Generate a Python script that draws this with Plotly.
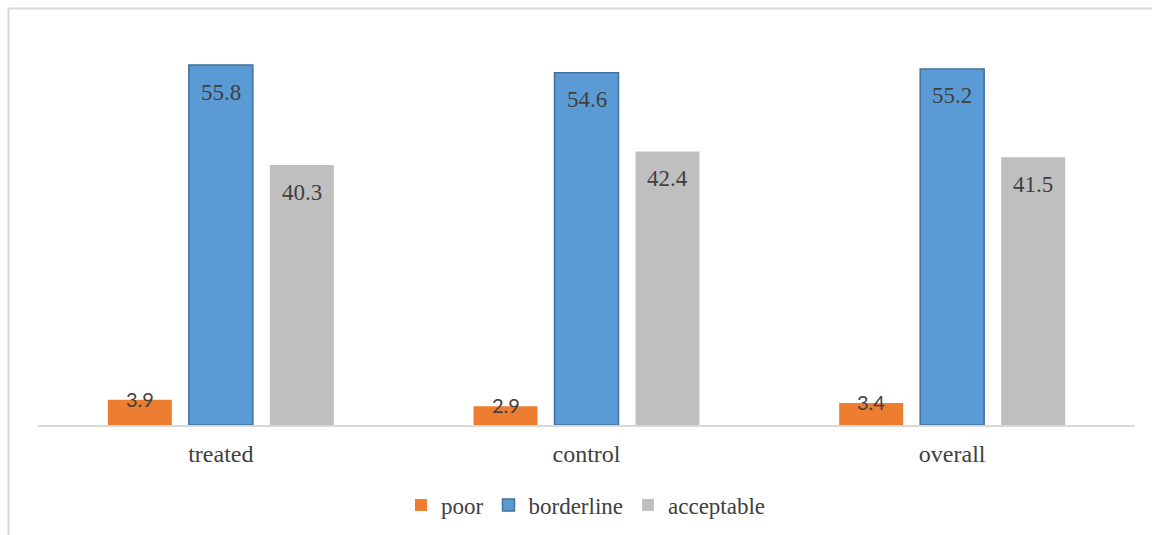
import plotly.graph_objects as go

categories = ["treated", "control", "overall"]
series_names = ["poor", "borderline", "acceptable"]
poor = [3.9, 2.9, 3.4]
borderline = [55.8, 54.6, 55.2]
acceptable = [40.3, 42.4, 41.5]

colors = ["#ED7D31", "#5B9BD5", "#BFBFBF"]
outlines = ["#ED7D31", "#41719C", "#BFBFBF"]
serif = "'Liberation Serif', 'Times New Roman', Tinos, 'DejaVu Serif', serif"
txtcol = "#404040"

W, H = 1153, 535
ml, mr, mt, mb = 38, 18, 38, 110
pw = W - ml - mr
ph = H - mt - mb
bargap = 0.3355
slot_px = pw / len(categories) * (1 - bargap) / 3

fig = go.Figure()
all_vals = [poor, borderline, acceptable]
for name, vals, c, oc in zip(series_names, all_vals, colors, outlines):
    fig.add_trace(go.Bar(
        x=categories, y=vals, name=name,
        marker=dict(color=c, line=dict(color=oc, width=1.5 if name == "borderline" else 0)),
    ))

annotations = []
for i, (name, vals) in enumerate(zip(series_names, all_vals)):
    for cat, v in zip(categories, vals):
        if name == "poor":
            annotations.append(dict(
                x=cat, y=v, xref="x", yref="y", text=f"{v}", showarrow=False,
                xshift=(i - 1) * slot_px, yanchor="middle", yshift=1,
                font=dict(family="Lato, sans-serif", size=20, color=txtcol)))
        else:
            annotations.append(dict(
                x=cat, y=v, xref="x", yref="y", text=f"{v}", showarrow=False,
                xshift=(i - 1) * slot_px, yanchor="middle", yshift=-27,
                font=dict(family=serif, size=23, color=txtcol)))

def px_x(p):
    return (p - ml) / pw

def px_y(p):
    return (H - mb - p) / ph

shapes = [
    dict(type="line", xref="paper", yref="paper",
         x0=px_x(8.5), x1=px_x(1152), y0=px_y(8.5), y1=px_y(8.5),
         line=dict(color="#D9D9D9", width=2)),
    dict(type="line", xref="paper", yref="paper",
         x0=px_x(8.5), x1=px_x(8.5), y0=px_y(8.5), y1=px_y(540),
         line=dict(color="#D9D9D9", width=2)),
]

fig.update_layout(
    width=W, height=H,
    margin=dict(l=ml, r=mr, t=mt, b=mb, autoexpand=False),
    paper_bgcolor="white", plot_bgcolor="white",
    barmode="group", bargap=bargap, bargroupgap=0.21,
    font=dict(family=serif, size=24, color=txtcol),
    xaxis=dict(showline=True, linecolor="#D9D9D9", linewidth=1.5, ticks="",
               tickfont=dict(family=serif, size=24, color=txtcol), showgrid=False,
               ticklabelstandoff=6),
    yaxis=dict(range=[0, 60], visible=False, showgrid=False, zeroline=False),
    legend=dict(orientation="h", x=px_x(586), xanchor="center", y=px_y(505), yanchor="middle",
                font=dict(family=serif, size=23, color=txtcol), itemwidth=30,
                traceorder="normal"),
    annotations=annotations,
    shapes=shapes,
    showlegend=True,
)

fig.write_html("out.html")
